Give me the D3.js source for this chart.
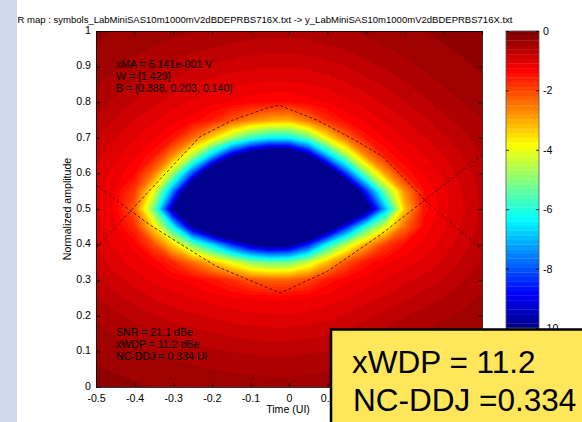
<!DOCTYPE html>
<html>
<head>
<meta charset="utf-8">
<script src="https://cdn.jsdelivr.net/npm/d3@7/dist/d3.min.js"></script>
<style>
  html, body { margin: 0; padding: 0; background: #ffffff; }
  svg { display: block; }
  text { font-family: "Liberation Sans", Arial, Helvetica, sans-serif; fill: #000; }
</style>
</head>
<body>
<svg id="chart" width="582" height="422"></svg>
<script>
// Sample nodes of the BER map: time columns (UI) and amplitude rows (top row first)
const timeGrid = [-0.5, -0.45, -0.4, -0.35, -0.3, -0.25, -0.2, -0.15, -0.1, -0.05, 0, 0.05, 0.1, 0.15, 0.2, 0.25, 0.3, 0.35, 0.4, 0.45, 0.5];
const ampGrid = [1, 0.95, 0.9, 0.85, 0.8, 0.75, 0.7, 0.65, 0.6, 0.55, 0.5, 0.45, 0.4, 0.35, 0.3, 0.25, 0.2, 0.15, 0.1, 0.05, 0];

// log10(BER) at every node, one row per amplitude level
const logBER = [
  [-0.27,-0.32,-0.36,-0.39,-0.43,-0.46,-0.49,-0.52,-0.54,-0.56,-0.56,-0.55,-0.51,-0.48,-0.44,-0.40,-0.36,-0.32,-0.27,-0.24,-0.20],
  [-0.33,-0.38,-0.43,-0.48,-0.53,-0.59,-0.63,-0.67,-0.71,-0.73,-0.73,-0.71,-0.66,-0.61,-0.54,-0.48,-0.43,-0.38,-0.33,-0.29,-0.24],
  [-0.39,-0.45,-0.52,-0.60,-0.67,-0.75,-0.81,-0.87,-0.91,-0.93,-0.93,-0.90,-0.85,-0.78,-0.68,-0.60,-0.52,-0.45,-0.39,-0.34,-0.29],
  [-0.46,-0.54,-0.64,-0.76,-0.85,-0.93,-1.01,-1.06,-1.11,-1.13,-1.13,-1.10,-1.05,-0.95,-0.86,-0.75,-0.64,-0.54,-0.46,-0.40,-0.35],
  [-0.55,-0.66,-0.79,-0.91,-1.03,-1.12,-1.20,-1.26,-1.34,-1.40,-1.42,-1.30,-1.23,-1.13,-1.03,-0.91,-0.79,-0.66,-0.55,-0.47,-0.40],
  [-0.65,-0.80,-0.94,-1.07,-1.20,-1.31,-1.58,-2.10,-2.61,-2.92,-3.02,-2.43,-1.71,-1.34,-1.20,-1.07,-0.94,-0.81,-0.67,-0.56,-0.47],
  [-0.77,-0.93,-1.08,-1.23,-1.48,-2.36,-3.44,-4.73,-5.80,-6.37,-6.37,-5.34,-3.65,-2.32,-1.49,-1.23,-1.09,-0.95,-0.81,-0.67,-0.54],
  [-0.88,-1.05,-1.22,-1.52,-2.71,-4.58,-6.93,-9.43,-11.02,-12.04,-11.93,-10.00,-7.05,-4.66,-2.66,-1.54,-1.24,-1.10,-0.95,-0.78,-0.62],
  [-0.98,-1.16,-1.40,-2.50,-4.81,-8.18,-11.82,-14.54,-16.48,-17.72,-17.38,-15.00,-11.70,-8.18,-5.04,-2.87,-1.55,-1.23,-1.06,-0.88,-0.69],
  [-1.05,-1.25,-1.92,-3.98,-7.61,-12.16,-16.13,-19.66,-21.93,-23.29,-22.61,-19.66,-16.25,-12.50,-8.58,-5.11,-2.71,-1.40,-1.13,-0.93,-0.74],
  [-1.07,-1.28,-2.28,-5.27,-10.00,-14.32,-17.38,-19.32,-20.79,-21.76,-21.36,-18.97,-16.25,-13.52,-10.68,-7.05,-3.28,-1.48,-1.15,-0.95,-0.75],
  [-1.03,-1.23,-1.74,-3.54,-6.37,-9.89,-12.10,-13.86,-15.23,-16.13,-15.91,-13.86,-11.25,-8.52,-5.91,-4.05,-2.36,-1.34,-1.12,-0.92,-0.73],
  [-0.96,-1.13,-1.30,-2.07,-3.49,-5.19,-6.71,-8.41,-9.77,-10.45,-10.23,-8.64,-6.25,-4.43,-2.97,-1.92,-1.41,-1.20,-1.03,-0.85,-0.67],
  [-0.85,-1.01,-1.17,-1.29,-1.71,-2.39,-3.18,-3.98,-4.89,-5.27,-5.19,-4.36,-3.18,-2.10,-1.48,-1.26,-1.16,-1.05,-0.91,-0.75,-0.60],
  [-0.73,-0.88,-1.00,-1.13,-1.22,-1.31,-1.49,-1.74,-2.10,-2.28,-2.25,-2.00,-1.50,-1.28,-1.18,-1.08,-0.98,-0.88,-0.77,-0.63,-0.52],
  [-0.61,-0.72,-0.85,-0.95,-1.03,-1.10,-1.17,-1.22,-1.26,-1.28,-1.27,-1.25,-1.18,-1.10,-1.00,-0.91,-0.81,-0.71,-0.62,-0.52,-0.45],
  [-0.50,-0.59,-0.69,-0.77,-0.85,-0.91,-0.97,-1.02,-1.05,-1.07,-1.07,-1.04,-0.99,-0.91,-0.83,-0.73,-0.64,-0.56,-0.49,-0.44,-0.38],
  [-0.42,-0.48,-0.54,-0.60,-0.66,-0.72,-0.77,-0.82,-0.85,-0.87,-0.87,-0.84,-0.80,-0.73,-0.65,-0.58,-0.51,-0.46,-0.41,-0.37,-0.32],
  [-0.35,-0.40,-0.44,-0.47,-0.52,-0.56,-0.60,-0.63,-0.65,-0.67,-0.67,-0.64,-0.63,-0.57,-0.51,-0.46,-0.42,-0.38,-0.34,-0.30,-0.26],
  [-0.30,-0.33,-0.36,-0.39,-0.41,-0.44,-0.47,-0.49,-0.50,-0.52,-0.52,-0.50,-0.49,-0.45,-0.41,-0.38,-0.35,-0.31,-0.27,-0.24,-0.22],
  [-0.24,-0.26,-0.29,-0.32,-0.34,-0.36,-0.38,-0.39,-0.40,-0.41,-0.41,-0.40,-0.39,-0.37,-0.34,-0.31,-0.28,-0.25,-0.22,-0.20,-0.17]
];

// Dashed eye trajectories [time, amplitude]
const eyeUpper = [[-0.5,0.39],[-0.41,0.495],[-0.36,0.553],[-0.231,0.703],[-0.145,0.75],[-0.058,0.783],[-0.025,0.792],[0.003,0.779],[0.072,0.75],[0.16,0.70],[0.244,0.647],[0.352,0.525],[0.5,0.385]];
const eyeLower = [[-0.5,0.567],[-0.41,0.495],[-0.36,0.455],[-0.19,0.34],[-0.023,0.264],[0.1,0.325],[0.236,0.427],[0.352,0.525],[0.5,0.652]];

const xTicks = [-0.5, -0.4, -0.3, -0.2, -0.1, 0, 0.1, 0.2, 0.3, 0.4, 0.5];
const yTicks = [0, 0.1, 0.2, 0.3, 0.4, 0.5, 0.6, 0.7, 0.8, 0.9, 1];
const cbTicks = [0, -2, -4, -6, -8, -10];
const cbDomain = [-10, 0];

const titleText = "R map : symbols_LabMiniSAS10m1000mV2dBDEPRBS716X.txt -> y_LabMiniSAS10m1000mV2dBDEPRBS716X.txt";
const statsTop = ["xMA = 5.141e-001 V", "W = [1.429]", "B = [0.388, 0.203, 0.140]"];
const statsBottom = ["SNR = 21.1 dBe", "xWDP = 11.2 dBe", "NC-DDJ = 0.334 UI"];
const callout = ["xWDP = 11.2", "NC-DDJ =0.334"];

// MATLAB-style jet colormap with m entries
function jet(m) {
  const n = Math.ceil(m / 4);
  const u = [];
  for (let i = 1; i <= n; i++) u.push(i / n);
  for (let i = 1; i < n; i++) u.push(1);
  for (let i = n; i >= 1; i--) u.push(i / n);
  const g0 = Math.ceil(n / 2) - (m % 4 === 1 ? 1 : 0);
  const J = Array.from({ length: m }, () => [0, 0, 0]);
  u.forEach((v, k) => {
    const g = g0 + k + 1, r = g + n, b = g - n;
    if (r >= 1 && r <= m) J[r - 1][0] = v;
    if (g >= 1 && g <= m) J[g - 1][1] = v;
    if (b >= 1 && b <= m) J[b - 1][2] = v;
  });
  return J.map(c => d3.rgb(Math.round(c[0] * 255), Math.round(c[1] * 255), Math.round(c[2] * 255)).formatHex());
}
const colors = jet(64);

const svg = d3.select("#chart");
const plot = { left: 96, right: 482, top: 31, bottom: 387 };
const box = { x: 331, y: 329.5 };
const x = d3.scaleLinear([-0.5, 0.5], [plot.left, plot.right]);
const y = d3.scaleLinear([0, 1], [plot.bottom, plot.top]);
const fmt = d => String(d);
const FS = 10.6;

svg.append("rect").attr("width", 582).attr("height", 422).attr("fill", "#ffffff");

// ---- BER map as filled contour bands ----
svg.append("clipPath").attr("id", "plotClip").append("rect")
  .attr("x", plot.left).attr("y", plot.top)
  .attr("width", plot.right - plot.left).attr("height", plot.bottom - plot.top);

const nx = timeGrid.length, ny = ampGrid.length;
const dt = timeGrid[1] - timeGrid[0], da = ampGrid[1] - ampGrid[0];
const levelStep = (cbDomain[1] - cbDomain[0]) / colors.length;
const thresholds = d3.range(1, colors.length).map(k => cbDomain[0] + k * levelStep);
const bands = d3.contours().size([nx, ny]).thresholds(thresholds)(logBER.flat());

const gridProj = d3.geoTransform({
  point(gx, gy) {
    this.stream.point(x(timeGrid[0] + (gx - 0.5) * dt), y(ampGrid[0] + (gy - 0.5) * da));
  }
});
const mapPath = d3.geoPath(gridProj);

const mapG = svg.append("g").attr("clip-path", "url(#plotClip)");
mapG.append("rect").attr("x", plot.left).attr("y", plot.top)
  .attr("width", plot.right - plot.left).attr("height", plot.bottom - plot.top)
  .attr("fill", colors[0]);
mapG.selectAll("path.band").data(bands).join("path")
  .attr("class", "band")
  .attr("d", mapPath)
  .attr("fill", (d, i) => colors[i + 1])
  .attr("stroke", (d, i) => colors[i + 1])
  .attr("stroke-width", 0.3);

// dashed trajectories
const line = d3.line().x(d => x(d[0])).y(d => y(d[1]));
mapG.selectAll("path.traj").data([eyeUpper, eyeLower]).join("path")
  .attr("class", "traj")
  .attr("d", line)
  .attr("fill", "none")
  .attr("stroke", "#2a0a0a")
  .attr("stroke-width", 0.8)
  .attr("stroke-dasharray", "3,2.2");

// annotation text inside the axes
svg.append("g").selectAll("text").data(statsTop).join("text")
  .attr("x", 116).attr("y", (d, i) => 68 + i * 12)
  .attr("font-size", FS).text(d => d);
svg.append("g").selectAll("text").data(statsBottom).join("text")
  .attr("x", 116).attr("y", (d, i) => 336 + i * 12)
  .attr("font-size", FS).text(d => d);

// ---- axes ----
function styleAxis(g) {
  g.selectAll("path.domain").attr("stroke", "#000").attr("stroke-width", 0.8);
  g.selectAll(".tick line").attr("stroke", "#000").attr("stroke-width", 0.8);
  g.selectAll("text").attr("font-size", FS).attr("font-family", "Liberation Sans, Arial, sans-serif").attr("fill", "#000");
}
// tick labels lying fully under the callout box are not drawn
const xLabel = d => (x(d) - 8 > box.x ? "" : fmt(d));
svg.append("g").attr("transform", `translate(0,${plot.bottom})`)
  .call(d3.axisBottom(x).tickValues(xTicks).tickFormat(xLabel).tickSizeInner(-4).tickSizeOuter(0).tickPadding(7.5))
  .call(styleAxis);
svg.append("g").attr("transform", `translate(0,${plot.top})`)
  .call(d3.axisTop(x).tickValues(xTicks).tickFormat("").tickSizeInner(-4).tickSizeOuter(0))
  .call(styleAxis);
svg.append("g").attr("transform", `translate(${plot.left},0)`)
  .call(d3.axisLeft(y).tickValues(yTicks).tickFormat(fmt).tickSizeInner(-4).tickSizeOuter(0).tickPadding(5))
  .call(styleAxis)
  .call(g => g.selectAll(".tick text").attr("dy", "0.22em"));
svg.append("g").attr("transform", `translate(${plot.right},0)`)
  .call(d3.axisRight(y).tickValues(yTicks).tickFormat("").tickSizeInner(-4).tickSizeOuter(0))
  .call(styleAxis);

svg.append("text").attr("x", 288).attr("y", 413).attr("text-anchor", "middle")
  .attr("font-size", FS).text("Time (UI)");
svg.append("text").attr("transform", `translate(71,${y(0.5)}) rotate(-90)`)
  .attr("text-anchor", "middle").attr("font-size", FS).text("Normalized amplitude");

// ---- colorbar ----
const cb = { left: 506, right: 539 };
const cbY = d3.scaleLinear(cbDomain, [328, 31]);
svg.append("g").selectAll("rect").data(colors).join("rect")
  .attr("x", cb.left).attr("width", cb.right - cb.left)
  .attr("y", (d, i) => cbY(cbDomain[0] + (i + 1) * levelStep))
  .attr("height", (d, i) => cbY(cbDomain[0] + i * levelStep) - cbY(cbDomain[0] + (i + 1) * levelStep) + 0.3)
  .attr("fill", d => d);
svg.append("rect").attr("x", cb.left).attr("y", cbY(0)).attr("width", cb.right - cb.left)
  .attr("height", cbY(-10) - cbY(0)).attr("fill", "none").attr("stroke", "#555").attr("stroke-width", 0.8);
svg.append("g").attr("transform", `translate(${cb.right},0)`)
  .call(d3.axisRight(cbY).tickValues(cbTicks).tickFormat(fmt).tickSizeInner(-3).tickSizeOuter(0).tickPadding(4))
  .call(styleAxis)
  .call(g => g.select("path.domain").remove());
svg.append("g").attr("transform", `translate(${cb.left},0)`)
  .call(d3.axisLeft(cbY).tickValues(cbTicks).tickFormat("").tickSizeInner(-3).tickSizeOuter(0))
  .call(styleAxis)
  .call(g => g.select("path.domain").remove());

// slide margin strip
svg.append("rect").attr("x", 0).attr("y", 0).attr("width", 17).attr("height", 422).attr("fill", "#cfd9ec");

// Title
svg.append("text").attr("x", 17.5).attr("y", 23)
  .attr("font-size", 9.6).attr("textLength", 495).attr("lengthAdjust", "spacingAndGlyphs")
  .text(titleText);

// highlighted callout
svg.append("rect").attr("x", box.x).attr("y", box.y).attr("width", 262).attr("height", 100)
  .attr("fill", "#ffe65a").attr("stroke", "#000").attr("stroke-width", 2.5);
svg.append("g").selectAll("text").data(callout).join("text")
  .attr("x", (d, i) => 352 + i).attr("y", (d, i) => 373 + i * 37.5)
  .attr("font-size", 31.5).text(d => d);
</script>
</body>
</html>
